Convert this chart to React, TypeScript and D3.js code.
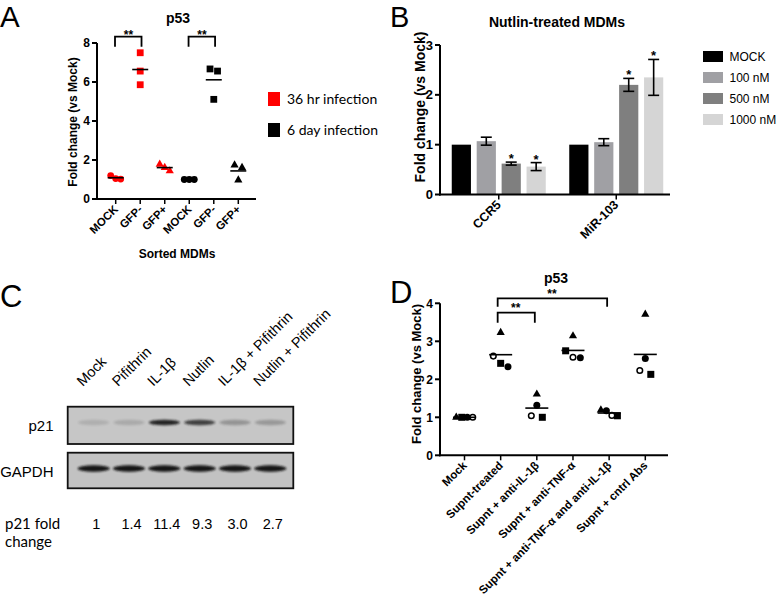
import React from "react";
import * as d3 from "d3";

const W = 777, H = 600;
const ARIAL = "'Liberation Sans', Arial, Helvetica, sans-serif";
const CAL = "Lato, 'Open Sans', sans-serif";

// ---------------- Panel A data ----------------
const sortedLabelsA = ["MOCK", "GFP-", "GFP+", "MOCK", "GFP-", "GFP+"];
const infection36hrMock = [1.2, 1.05, 1.02];
const infection36hrGfpNeg = [7.5, 6.56, 5.86];
const infection36hrGfpPos = [1.78, 1.61, 1.44];
const infection6dayMock = [1.0, 1.0, 1.0];
const infection6dayGfpNeg = [6.67, 6.56, 5.11];
const infection6dayGfpPos = [1.74, 1.61, 0.97];
const yTicksA = [0, 2, 4, 6, 8];
const legendA = ["36 hr infection", "6 day infection"];
const colorsA = ["#ff0000", "#000000"];
const sigPairsA = [[0, 1], [3, 4]];

// ---------------- Panel B data ----------------
const genesB = ["CCR5", "MiR-103"];
const dosesB = ["MOCK", "100 nM", "500 nM", "1000 nM"];
const ccr5Mean = [1.0, 1.07, 0.62, 0.56];
const ccr5Err = [0, 0.08, 0.03, 0.08];
const mir103Mean = [1.0, 1.05, 2.2, 2.35];
const mir103Err = [0, 0.07, 0.13, 0.36];
const ccr5Sig = ["", "", "*", "*"];
const mir103Sig = ["", "", "*", "*"];
const yTicksB = [0, 1, 2, 3];
const colorsB = ["#000000", "#a0a0a4", "#7f7f7f", "#d5d5d5"];

// ---------------- Panel C data ----------------
const lanesC = ["Mock", "Pifithrin", "IL-1β", "Nutlin", "IL-1β + Pifithrin", "Nutlin + Pifithrin"];
const p21FoldC = [1, 1.4, 11.4, 9.3, 3.0, 2.7];
const p21FoldLabelsC = ["1", "1.4", "11.4", "9.3", "3.0", "2.7"];

// ---------------- Panel D data ----------------
const treatmentsD = [
  "Mock",
  "Supnt-treated",
  "Supnt + anti-IL-1β",
  "Supnt + anti-TNF-α",
  "Supnt + anti-TNF-α and anti-IL-1β",
  "Supnt + cntrl Abs",
];
const donorTriangleD = [1.0, 3.23, 1.61, 3.14, 1.19, 3.71];
const donorSquareD = [1.0, 2.42, 1.0, 2.75, 1.04, 2.13];
const donorFilledCircleD = [1.0, 2.33, 1.32, 2.57, 1.17, 2.55];
const donorOpenCircleD = [1.0, 2.61, 1.04, 2.58, 1.05, 2.23];
const yTicksD = [0, 1, 2, 3, 4];
const sigPairsD = [[1, 4], [1, 2]];

type Shape = "circle" | "square" | "triangle" | "open";

function Marker({ shape, x, y, size, color }: { shape: Shape; x: number; y: number; size: number; color: string }) {
  if (shape === "circle") return <circle cx={x} cy={y} r={size / 2} fill={color} />;
  if (shape === "open")
    return <circle cx={x} cy={y} r={size / 2 - 0.7} fill="#fff" stroke={color} strokeWidth={1.5} />;
  if (shape === "square")
    return <rect x={x - size / 2} y={y - size / 2} width={size} height={size} fill={color} />;
  const area = (Math.sqrt(3) / 4) * size * size * 1.05;
  const p = d3.symbol().type(d3.symbolTriangle).size(area)() as string;
  return <path d={p} transform={`translate(${x},${y})`} fill={color} />;
}

function swarmOffsets(values: number[], y: (v: number) => number, threshold: number, width: number) {
  const idx = d3.range(values.length).sort((a, b) => d3.descending(values[a], values[b]) || a - b);
  const off = new Array(values.length).fill(0);
  let cluster: number[] = [idx[0]];
  const flush = () => {
    const n = cluster.length;
    const sp = width / n;
    cluster.forEach((id, k) => (off[id] = (k - (n - 1) / 2) * sp));
  };
  for (let i = 1; i < idx.length; i++) {
    const prev = idx[i - 1], cur = idx[i];
    if (y(values[cur]) - y(values[prev]) < threshold) cluster.push(cur);
    else {
      flush();
      cluster = [cur];
    }
  }
  flush();
  return off;
}

function PanelA() {
  const y = d3.scaleLinear().domain([0, 8]).range([199, 43]);
  const x = d3.scalePoint<number>().domain(d3.range(6)).range([115.7, 238.3]);
  const x0 = 97, x1 = 256, y0 = y(0);
  const groups = [
    { v: infection36hrMock, c: colorsA[0], s: "circle" as Shape },
    { v: infection36hrGfpNeg, c: colorsA[0], s: "square" as Shape },
    { v: infection36hrGfpPos, c: colorsA[0], s: "triangle" as Shape },
    { v: infection6dayMock, c: colorsA[1], s: "circle" as Shape },
    { v: infection6dayGfpNeg, c: colorsA[1], s: "square" as Shape },
    { v: infection6dayGfpPos, c: colorsA[1], s: "triangle" as Shape },
  ];
  return (
    <g>
      <text x={0} y={26.5} fontFamily={ARIAL} fontSize={29.5}>A</text>
      <text x={178} y={23} textAnchor="middle" fontFamily={ARIAL} fontWeight="bold" fontSize={14}>p53</text>
      {/* axes */}
      <line x1={x0} x2={x0} y1={y(8)} y2={y0 + 1} stroke="#000" strokeWidth={2} />
      <line x1={x0 - 1} x2={x1} y1={y0} y2={y0} stroke="#000" strokeWidth={2} />
      {yTicksA.map((t) => (
        <g key={t}>
          <line x1={x0 - 5} x2={x0} y1={y(t)} y2={y(t)} stroke="#000" strokeWidth={2} />
          <text x={x0 - 7} y={y(t) + 4.3} textAnchor="end" fontFamily={ARIAL} fontWeight="bold" fontSize={12}>{t}</text>
        </g>
      ))}
      {sortedLabelsA.map((l, i) => (
        <g key={i}>
          <line x1={x(i)!} x2={x(i)!} y1={y0} y2={y0 + 5} stroke="#000" strokeWidth={1.5} />
          <text
            transform={`translate(${x(i)! + 3},${y0 + 11}) rotate(-45)`}
            textAnchor="end"
            fontFamily={ARIAL}
            fontWeight="bold"
            fontSize={11.3}
          >
            {l}
          </text>
        </g>
      ))}
      <text x={177} y={258} textAnchor="middle" fontFamily={ARIAL} fontWeight="bold" fontSize={12}>Sorted MDMs</text>
      <text transform={`translate(77,122) rotate(-90)`} textAnchor="middle" fontFamily={ARIAL} fontWeight="bold" fontSize={12}>
        Fold change (vs Mock)
      </text>
      {/* points */}
      {groups.map((g, i) => {
        const off = swarmOffsets(g.v, y, 7, 15);
        const m = d3.mean(g.v)!;
        return (
          <g key={i}>
            {g.v.map((v, k) => (
              <Marker key={k} shape={g.s} x={x(i)! + off[k]} y={y(v)} size={g.s === "triangle" ? 8 : 6.8} color={g.c} />
            ))}
            <line x1={x(i)! - 8} x2={x(i)! + 8} y1={y(m)} y2={y(m)} stroke="#000" strokeWidth={1.6} />
          </g>
        );
      })}
      {/* significance */}
      {sigPairsA.map(([a, b], i) => (
        <g key={i}>
          <path d={`M${x(a)! - 0.7},46.7 V36.7 H${x(b)! + 1.3} V46.7`} fill="none" stroke="#000" strokeWidth={1.8} />
          <text x={(x(a)! + x(b)!) / 2 + 0.5} y={38.8} textAnchor="middle" fontFamily={ARIAL} fontWeight="bold" fontSize={12}>**</text>
        </g>
      ))}
      {/* legend */}
      {legendA.map((l, i) => (
        <g key={l}>
          <rect x={268} y={92 + i * 31} width={12} height={14} fill={colorsA[i]} />
          <text x={287} y={103.5 + i * 31} fontFamily={CAL} fontSize={14}>{l}</text>
        </g>
      ))}
    </g>
  );
}

function PanelB() {
  const y = d3.scaleLinear().domain([0, 3]).range([194.5, 45]);
  const x0s = d3.scaleBand<string>().domain(genesB).range([440, 675]).paddingInner(0.2).paddingOuter(0.1);
  const x1s = d3.scaleBand<string>().domain(dosesB).range([0, x0s.bandwidth()]).paddingInner(0.23);
  const ax = 440, ay = y(0);
  const means = [ccr5Mean, mir103Mean];
  const errs = [ccr5Err, mir103Err];
  const sigs = [ccr5Sig, mir103Sig];
  return (
    <g>
      <text x={390} y={26.5} fontFamily={ARIAL} fontSize={29}>B</text>
      <text x={557} y={27} textAnchor="middle" fontFamily={ARIAL} fontWeight="bold" fontSize={14}>Nutlin-treated MDMs</text>
      {genesB.map((g, gi) =>
        dosesB.map((d, di) => {
          const bx = x0s(g)! + x1s(d)!;
          const bw = x1s.bandwidth();
          const v = means[gi][di];
          const e = errs[gi][di];
          const cx = bx + bw / 2;
          return (
            <g key={g + d}>
              <rect x={bx} y={y(v)} width={bw} height={ay - y(v)} fill={colorsB[di]} />
              {e > 0 && (
                <g stroke="#000" strokeWidth={1.6}>
                  <line x1={cx} x2={cx} y1={y(v + e)} y2={y(v - e)} />
                  <line x1={cx - 5.5} x2={cx + 5.5} y1={y(v + e)} y2={y(v + e)} />
                  <line x1={cx - 5.5} x2={cx + 5.5} y1={y(v - e)} y2={y(v - e)} />
                </g>
              )}
              {sigs[gi][di] && (
                <text x={cx} y={y(v + e) + 1} textAnchor="middle" fontFamily={ARIAL} fontWeight="bold" fontSize={13}>
                  {sigs[gi][di]}
                </text>
              )}
            </g>
          );
        })
      )}
      <line x1={ax} x2={ax} y1={y(3)} y2={ay + 1} stroke="#000" strokeWidth={2} />
      <line x1={ax - 1} x2={670} y1={ay} y2={ay} stroke="#000" strokeWidth={2} />
      {yTicksB.map((t) => (
        <g key={t}>
          <line x1={ax - 5} x2={ax} y1={y(t)} y2={y(t)} stroke="#000" strokeWidth={2} />
          <text x={ax - 7} y={y(t) + 4.6} textAnchor="end" fontFamily={ARIAL} fontWeight="bold" fontSize={13}>{t}</text>
        </g>
      ))}
      {genesB.map((g) => {
        const cx = x0s(g)! + x0s.bandwidth() / 2;
        return (
          <g key={g}>
            <line x1={cx} x2={cx} y1={ay} y2={ay + 5} stroke="#000" strokeWidth={1.5} />
            <text transform={`translate(${cx + 3},${ay + 11}) rotate(-45)`} textAnchor="end" fontFamily={ARIAL} fontWeight="bold" fontSize={12.5}>
              {g}
            </text>
          </g>
        );
      })}
      <text transform={`translate(425,107) rotate(-90)`} textAnchor="middle" fontFamily={ARIAL} fontWeight="bold" fontSize={14}>
        Fold change (vs Mock)
      </text>
      {dosesB.map((d, i) => (
        <g key={d}>
          <rect x={703} y={51 + i * 21} width={20} height={11} fill={colorsB[i]} />
          <text x={729.5} y={61 + i * 21} fontFamily={ARIAL} fontSize={12}>{d}</text>
        </g>
      ))}
    </g>
  );
}

function PanelC() {
  const x = d3.scaleBand<string>().domain(lanesC).range([76, 288]);
  const op = d3.scaleLinear().domain([1, 11.4]).range([0.13, 0.95]);
  const bx0 = 67.7, bx1 = 293.3;
  return (
    <g>
      <defs>
        <filter id="blur1" x="-30%" y="-200%" width="160%" height="500%">
          <feGaussianBlur stdDeviation="1.3" />
        </filter>
        <filter id="blur2" x="-30%" y="-200%" width="160%" height="500%">
          <feGaussianBlur stdDeviation="0.9" />
        </filter>
      </defs>
      <text x={0} y={307} fontFamily={ARIAL} fontSize={31}>C</text>
      {lanesC.map((l) => (
        <text key={l} transform={`translate(${x(l)! + x.bandwidth() / 2 - 11},${387}) rotate(-45)`} fontFamily={ARIAL} fontSize={14.5}>
          {l}
        </text>
      ))}
      {/* p21 blot */}
      <rect x={bx0} y={406.7} width={bx1 - bx0} height={37.3} fill="#c6c6c6" stroke="#111" strokeWidth={1.8} />
      {lanesC.map((l, i) => (
        <ellipse
          key={l}
          cx={x(l)! + x.bandwidth() / 2}
          cy={422.5}
          rx={15.5}
          ry={2.8}
          fill="#1a1a1a"
          opacity={op(p21FoldC[i])}
          filter="url(#blur1)"
        />
      ))}
      {/* GAPDH blot */}
      <rect x={bx0} y={452.7} width={bx1 - bx0} height={35.6} fill="#c2c2c2" stroke="#111" strokeWidth={1.8} />
      {lanesC.map((l) => (
        <ellipse key={l} cx={x(l)! + x.bandwidth() / 2} cy={468.5} rx={16} ry={3.2} fill="#151515" filter="url(#blur2)" />
      ))}
      <text x={53.5} y={431} textAnchor="end" fontFamily={ARIAL} fontSize={15}>p21</text>
      <text x={53.5} y={476.5} textAnchor="end" fontFamily={ARIAL} fontSize={15}>GAPDH</text>
      <text x={5} y={528.5} fontFamily={CAL} fontSize={15}>p21 fold</text>
      <text x={5} y={547} fontFamily={CAL} fontSize={15}>change</text>
      {lanesC.map((l, i) => (
        <text key={l} x={x(l)! + x.bandwidth() / 2 + 2.5} y={528.5} textAnchor="middle" fontFamily={ARIAL} fontSize={14.5}>
          {p21FoldLabelsC[i]}
        </text>
      ))}
    </g>
  );
}

function PanelD() {
  const y = d3.scaleLinear().domain([0, 4]).range([455.3, 303.3]);
  const x = d3.scalePoint<string>().domain(treatmentsD).range([464.5, 645.3]);
  const ax = 440, ay = y(0);
  const series: { v: number[]; s: Shape }[] = [
    { v: donorTriangleD, s: "triangle" },
    { v: donorSquareD, s: "square" },
    { v: donorFilledCircleD, s: "circle" },
    { v: donorOpenCircleD, s: "open" },
  ];
  return (
    <g>
      <text x={390} y={303} fontFamily={ARIAL} fontSize={31}>D</text>
      <text x={556} y={282.5} textAnchor="middle" fontFamily={ARIAL} fontWeight="bold" fontSize={14}>p53</text>
      <line x1={ax} x2={ax} y1={y(4)} y2={ay + 1} stroke="#000" strokeWidth={2} />
      <line x1={ax - 1} x2={668} y1={ay} y2={ay} stroke="#000" strokeWidth={2} />
      {yTicksD.map((t) => (
        <g key={t}>
          <line x1={ax - 5} x2={ax} y1={y(t)} y2={y(t)} stroke="#000" strokeWidth={2} />
          <text x={ax - 7} y={y(t) + 4.3} textAnchor="end" fontFamily={ARIAL} fontWeight="bold" fontSize={12}>{t}</text>
        </g>
      ))}
      {treatmentsD.map((t) => (
        <g key={t}>
          <line x1={x(t)!} x2={x(t)!} y1={ay} y2={ay + 5} stroke="#000" strokeWidth={1.5} />
          <text transform={`translate(${x(t)! + 3},${ay + 11}) rotate(-45)`} textAnchor="end" fontFamily={ARIAL} fontWeight="bold" fontSize={11.5}>
            {t}
          </text>
        </g>
      ))}
      <text transform={`translate(421,374) rotate(-90)`} textAnchor="middle" fontFamily={ARIAL} fontWeight="bold" fontSize={13}>
        Fold change (vs Mock)
      </text>
      {treatmentsD.map((t, j) => {
        const vals = series.map((s) => s.v[j]);
        const off = swarmOffsets(vals, y, 8, 22);
        const m = d3.mean(vals)!;
        return (
          <g key={t}>
            {series.map((s, k) => (
              <Marker key={k} shape={s.s} x={x(t)! + off[k]} y={y(vals[k])} size={s.s === "triangle" ? 8 : 7} color="#000" />
            ))}
            <line x1={x(t)! - 11.5} x2={x(t)! + 11.5} y1={y(m)} y2={y(m)} stroke="#000" strokeWidth={1.6} />
          </g>
        );
      })}
      {sigPairsD.map(([a, b], i) => {
        const xa = x(treatmentsD[a])!, xb = x(treatmentsD[b])!;
        const top = i === 0 ? 298.3 : 312.7;
        const bottom = i === 0 ? 306.7 : 322.7;
        return (
          <g key={i}>
            <path d={`M${xa - 3},${bottom} V${top} H${xb - 2} V${bottom}`} fill="none" stroke="#000" strokeWidth={1.8} />
            <text x={(xa + xb) / 2 - 3} y={top - 0.5} textAnchor="middle" fontFamily={ARIAL} fontWeight="bold" fontSize={12}>**</text>
          </g>
        );
      })}
    </g>
  );
}

export default function App() {
  return (
    <svg
      width={W}
      height={H}
      viewBox={`0 0 ${W} ${H}`}
      style={{ position: "absolute", left: 0, top: 0, background: "#fff" }}
    >
      <rect width={W} height={H} fill="#fff" />
      <PanelA />
      <PanelB />
      <PanelC />
      <PanelD />
    </svg>
  );
}
